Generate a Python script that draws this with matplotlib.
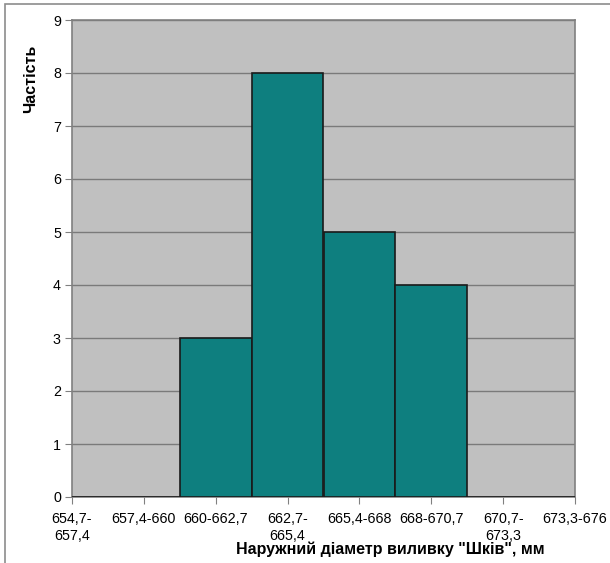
# -*- coding: utf-8 -*-
import matplotlib
matplotlib.use("Agg")
import matplotlib.pyplot as plt
from matplotlib.patches import Rectangle

plt.rcParams['font.family'] = ['Liberation Sans', 'DejaVu Sans']

# Інтервали діаметра та частоти
intervals = ["654,7-\n657,4", "657,4-660", "660-662,7", "662,7-\n665,4",
             "665,4-668", "668-670,7", "670,7-\n673,3", "673,3-676"]
counts = [0, 0, 3, 8, 5, 4, 0, 0]

fig = plt.figure(figsize=(6.1, 5.63), dpi=100)
ax = fig.add_axes([72/610, 1 - 497/563, 503/610, 477/563])
ax.set_facecolor("#c0c0c0")

x = list(range(len(counts)))
ax.bar(x, counts, width=1.0, color="#0e7f7f", edgecolor="#1a1a1a",
       linewidth=1.2, zorder=3)

ax.set_xlim(0, len(counts) - 1)
ax.set_ylim(0, 9)
ax.set_yticks(range(10))
ax.set_xticks(x)
ax.set_xticklabels(intervals, fontsize=10.3, linespacing=1.25)
ax.tick_params(axis="y", labelsize=10.3, length=5, color="#808080", pad=3)
ax.tick_params(axis="x", length=5, color="#808080", pad=6)

ax.yaxis.grid(True, color="#7a7a7a", linewidth=1, zorder=1)
ax.set_axisbelow(True)
for s in ax.spines.values():
    s.set_color("#808080")
    s.set_linewidth(1.2)

fig.text(31/610, 1 - 79/563, "Частість", rotation=90,
         ha="center", va="center", fontsize=11.5, fontweight="bold")
fig.text(390/610, 1 - 549/563, 'Наружний діаметр виливку "Шків", мм',
         ha="center", va="center", fontsize=11.5, fontweight="bold")

# рамка навколо діаграми
fig.patches.append(Rectangle((5/610, -0.1), 1.2, 1 - 4/563 + 0.1,
                             transform=fig.transFigure, fill=False,
                             edgecolor="#8c8c8c", linewidth=1.2))

plt.savefig("out.png", dpi=100)
